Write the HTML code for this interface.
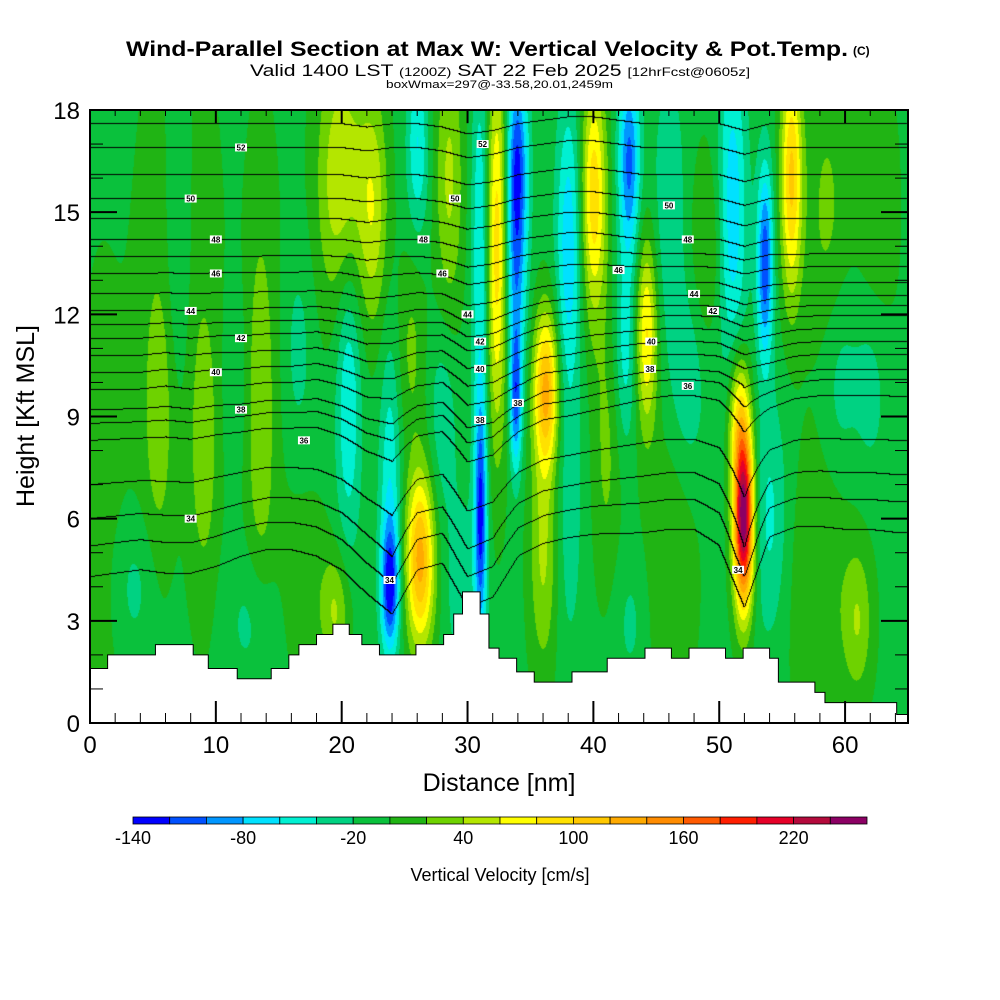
<!DOCTYPE html>
<html><head><meta charset="utf-8">
<style>
html,body{margin:0;padding:0;background:#fff;width:1000px;height:1000px;overflow:hidden;font-family:"Liberation Sans",sans-serif}
#wrap{position:relative;width:1000px;height:1000px}
#field{position:absolute;left:90px;top:110px}
#ov{position:absolute;left:0;top:0}
</style></head><body>
<div id="wrap">
<canvas id="field" width="818" height="613"></canvas>
<svg id="ov" width="1000" height="1000" xmlns="http://www.w3.org/2000/svg">
<g font-family="Liberation Sans, sans-serif" fill="#000">
<text x="126" y="56" font-size="21" font-weight="bold" textLength="722" lengthAdjust="spacingAndGlyphs">Wind-Parallel Section at Max W: Vertical Velocity &amp; Pot.Temp.</text>
<text x="853" y="55" font-size="12" font-weight="bold">(C)</text>
<text x="250" y="76" font-size="17" textLength="500" lengthAdjust="spacingAndGlyphs">Valid 1400 LST <tspan font-size="12">(1200Z)</tspan> SAT 22 Feb 2025 <tspan font-size="12">[12hrFcst@0605z]</tspan></text>
<text x="386" y="88" font-size="11" textLength="227" lengthAdjust="spacingAndGlyphs">boxWmax=297@-33.58,20.01,2459m</text>
</g>
<g id="terrain"></g>
<g id="clabels"></g>
<g id="axes"></g>
<g id="cbar"></g>
<text x="499" y="791" font-size="25" text-anchor="middle" font-family="Liberation Sans, sans-serif">Distance [nm]</text>
<text transform="translate(34,416) rotate(-90)" font-size="25" text-anchor="middle" font-family="Liberation Sans, sans-serif">Height [Kft MSL]</text>
<text x="500" y="881" font-size="18" text-anchor="middle" font-family="Liberation Sans, sans-serif">Vertical Velocity [cm/s]</text>
</svg>
</div>
<script>
// ---- data ----
const blobX  = [5,5.5,9,9,13.6,13.5,1,7,3.5,13,11.5,16.5,17,19.5,20.5,20.5,22.5,23.8,23.8,26.2,26,25.5,28.5,28,31,31,32.3,33.9,33.8,33.8,36.2,36,38,38,40,41,42.8,42.5,44.2,46,47.5,49,51.9,51.5,51,53.6,54,55.7,58,59.5,62,61,46,43,29.5,19.5,58.5,62.5];
const blobH  = [11,9,11,8,10,9,6,14,4,3,10,11,4,3.3,9.5,16,15,4,7,4.8,17,11,16,9,6,14,14,16.5,9.5,13,9.8,5,14,6,15.5,8,16.5,11,11.5,15,10,14,6,9,15,13.5,6,16,4,10,10,3,4.5,3,4,16,15,15];
const blobAmp= [18,28,18,28,18,28,15,-22,-25,-25,-15,-22,20,45,-55,40,50,-110,-50,135,-55,30,50,-30,-115,-60,100,-110,-100,-70,130,50,-70,-25,100,30,-100,-45,90,-30,-30,30,265,80,-70,-110,-40,110,25,-25,-25,40,25,-20,-25,30,30,22];
const blobSX = [1.2,0.7,1.2,0.7,1.2,0.7,1.5,0.6,1.2,1.5,0.7,0.8,1.5,0.8,0.7,1.5,0.8,0.5,0.6,0.8,0.6,0.8,0.8,0.8,0.35,0.5,0.6,0.6,0.35,0.6,0.7,0.8,0.7,0.8,0.7,0.8,0.6,0.6,0.6,1,1,1,0.55,0.6,0.8,0.45,1,0.6,2,1,1,0.8,1.5,1,1,1.2,1.2,1.2];
const blobSH = [6,2.5,6,2.5,6,3.5,6,2.5,1.5,1.5,2,2,2,1.2,3,2.5,2.5,1.3,3,1.8,1.8,2,3,2,2.5,4,4,2,1.5,2,1.6,2.5,3,3,2.5,3,2,2,2,3,2,2,1.8,1.5,3.5,2,2.5,2.5,3,2,2,1.5,3,1.5,2,3,3,3];
const baseW = -6;
const binColors = ["#0000ff","#0050ff","#0096ff","#00e1ff","#00f0d2","#00d282","#0ac13c","#20b414","#6ed200","#b4e600","#ffff00","#ffe100","#ffc800","#ffaa00","#ff8c00","#ff5a00","#ff1e00","#e60028","#b40a3c","#8c0064"];
const cbarTicks = [-140,-80,-20,40,100,160,220];
const thetaH = [0,4.3,5.2,6.0,7.0,8.3,8.8,9.2,9.8,10.3,10.8,11.3,11.7,12.1,12.6,13.2,13.7,14.2,14.8,15.4,16.1,16.9,17.6,18.5];
const thetaV = [31.4,32,33,34,35,36,37,38,39,40,41,42,43,44,45,46,47,48,49,50,51,52,53,54];
const dispX  = [0,2,4,6,8,10,12,14,16,18,20,22,24,26,28,30,32,34,36,38,40,42,44,46,48,50,52,54,56,58,60,62,64,66];
const dispLow= [0,0.1,0.2,0.1,0.1,0.3,0.6,0.8,0.8,0.6,0.2,-0.5,-1.1,0.2,0.4,-0.9,-0.6,0.6,1.0,1.2,1.3,1.3,1.3,1.4,1.4,0.9,-0.9,1.2,1.5,1.5,1.4,1.4,1.3,1.3];
const dispMid= [0,0,0,0.1,0,0.1,0.1,0.2,0.2,0.3,0.1,-0.2,-0.2,0.1,0.2,-0.4,-0.3,0.1,0.5,0.6,0.8,1.0,1.2,1.3,1.3,1.2,0.7,0.9,1.2,1.3,1.3,1.3,1.3,1.3];
const dispUp = [0,0,0,0,0,0,0,0,0,0,0,-0.1,0,0,-0.1,-0.3,-0.2,0,0.1,0.2,0.2,0.1,0,0,0,0,-0.2,0,0,0,0,0,0,0];
const labText = ["52","50","48","46","44","42","40","38","36","34","50","48","46","44","42","40","38","38","34","52","50","48","46","44","42","40","38","36","34"];
const labX    = [12,8,10,10,8,12,10,12,17,8,29,26.5,28,30,31,31,31,34,23.8,31.2,46,47.5,42,48,49.5,44.6,44.5,47.5,51.5];
const labH    = [16.9,15.4,14.2,13.2,12.1,11.3,10.3,9.2,8.3,6.0,15.4,14.2,13.2,12.0,11.2,10.4,8.9,9.4,4.2,17.0,15.2,14.2,13.3,12.6,12.1,11.2,10.4,9.9,4.5];
const terrEdges = [0,1.4,5.2,8.2,9.4,11.7,14.4,15.8,16.6,18.0,19.3,20.6,21.6,23.0,25.9,28.1,28.9,29.6,31.0,31.7,32.5,33.9,35.3,38.3,41.1,44.1,46.2,47.6,50.5,51.9,54.0,54.7,57.6,58.4,64.1,65];
const terrH     = [1.6,2.0,2.3,2.0,1.6,1.3,1.6,2.0,2.3,2.6,2.9,2.6,2.3,2.0,2.3,2.6,3.2,3.85,3.2,2.2,1.9,1.5,1.2,1.5,1.9,2.2,1.9,2.2,1.9,2.2,1.9,1.2,0.9,0.6,0.25];
const xTicks = [0,10,20,30,40,50,60];
const yTicks = [0,3,6,9,12,15,18];

const PX0=90, PY0=110, PW=818, PH=613, XMAX=65, HMAX=18;
const sx = v => PX0 + v/XMAX*PW;
const sy = v => PY0 + PH - v/HMAX*PH;
const NS="http://www.w3.org/2000/svg";
function mk(tag, attrs, parent){const e=document.createElementNS(NS,tag);for(const k in attrs)e.setAttribute(k,attrs[k]);parent.appendChild(e);return e;}
function interp(xs, ys, v){ if(v<=xs[0])return ys[0]; for(let i=1;i<xs.length;i++){ if(v<=xs[i]){const t=(v-xs[i-1])/(xs[i]-xs[i-1]);return ys[i-1]+t*(ys[i]-ys[i-1]);} } return ys[ys.length-1]; }
function hexRGB(h){return [parseInt(h.substr(1,2),16),parseInt(h.substr(3,2),16),parseInt(h.substr(5,2),16)];}
const rgb = binColors.map(hexRGB);

const cv=document.getElementById('field'), ctx=cv.getContext('2d');
const img=ctx.createImageData(PW,PH);
const theta=new Float32Array(PW*PH);
for(let j=0;j<PH;j++){
  const h=(PH-j)/PH*HMAX;
  for(let i=0;i<PW;i++){
    const x=i/PW*XMAX;
    let w=baseW;
    for(let b=0;b<blobX.length;b++){
      const dx=(x-blobX[b])/blobSX[b], dh=(h-blobH[b])/blobSH[b];
      const e=dx*dx+dh*dh; if(e<18) w+=blobAmp[b]*Math.exp(-0.5*e);
    }
    let bin=Math.floor((w+140)/20); if(bin<0)bin=0; if(bin>19)bin=19;
    const c=rgb[bin], k=(j*PW+i)*4;
    img.data[k]=c[0];img.data[k+1]=c[1];img.data[k+2]=c[2];img.data[k+3]=255;
    const dl=interp(dispX,dispLow,x), dm=interp(dispX,dispMid,x), du=interp(dispX,dispUp,x);
    let d;
    if(h<5) d=dl; else if(h<10) d=dl+(dm-dl)*(h-5)/5; else if(h<14) d=dm+(du-dm)*(h-10)/4; else d=du;
    theta[j*PW+i]=interp(thetaH,thetaV,h-d);
  }
}
for(let j=0;j<PH-1;j++)for(let i=0;i<PW-1;i++){
  const a=Math.floor(theta[j*PW+i]);
  if(a!==Math.floor(theta[j*PW+i+1])||a!==Math.floor(theta[(j+1)*PW+i])){
    const k=(j*PW+i)*4; img.data[k]=0;img.data[k+1]=0;img.data[k+2]=0;
  }
}
ctx.putImageData(img,0,0);

const tg=document.getElementById('terrain');
let pts=[[sx(0),sy(0)]];
for(let s=0;s<terrH.length;s++){pts.push([sx(terrEdges[s]),sy(terrH[s])]);pts.push([sx(terrEdges[s+1]),sy(terrH[s])]);}
pts.push([sx(65),sy(0)]);
const tp=mk('polygon',{points:pts.map(p=>p.join(',')).join(' '),fill:'#fff',stroke:'#000','stroke-width':1},tg);



const lg=document.getElementById('clabels');
for(let i=0;i<labText.length;i++){
  const g=mk('g',{},lg);
  
  
  mk('rect',{x:sx(labX[i])-6,y:sy(labH[i])-4,width:12,height:8,fill:'#fff'},g);
  const t=mk('text',{x:sx(labX[i]),y:sy(labH[i])+3,'font-size':8,'font-weight':'bold','text-anchor':'middle','font-family':'Liberation Sans, sans-serif'},g);
  t.textContent=labText[i];
}

const ag=document.getElementById('axes');
const fr=mk('rect',{x:PX0,y:PY0,width:PW,height:PH,fill:'none',stroke:'#000','stroke-width':2},ag);


for(let v=0;v<=64;v+=2){
  const major=v%10===0, L=major?22:10, x=sx(v);
  mk('line',{x1:x,y1:PY0+PH,x2:x,y2:PY0+PH-L,stroke:'#000','stroke-width':major?2:1},ag);
  mk('line',{x1:x,y1:PY0,x2:x,y2:PY0+L*0.6,stroke:'#000','stroke-width':major?2:1},ag);
}
for(let v=0;v<=18;v+=1){
  const major=v%3===0, L=major?27:13, y=sy(v);
  mk('line',{x1:PX0,y1:y,x2:PX0+L,y2:y,stroke:'#000','stroke-width':major?2:1},ag);
  mk('line',{x1:PX0+PW,y1:y,x2:PX0+PW-L,y2:y,stroke:'#000','stroke-width':major?2:1},ag);
}
xTicks.forEach(v=>{
  const t=mk('text',{x:sx(v),y:753,'font-size':24,'text-anchor':'middle','font-family':'Liberation Sans, sans-serif'},ag);
  
  
  t.textContent=v;
});
yTicks.forEach(v=>{
  const t=mk('text',{x:80,y:sy(v)+9,'font-size':24,'text-anchor':'end','font-family':'Liberation Sans, sans-serif'},ag);
  
  
  t.textContent=v;
});

const cg=document.getElementById('cbar');
const CB0=133, CB1=867, CBW=(CB1-CB0)/binColors.length;
binColors.forEach((c,i)=>{
  const r=mk('rect',{x:CB0+i*CBW,y:817,width:CBW,height:7,fill:c,stroke:'#000','stroke-width':0.8},cg);
  
  
});
cbarTicks.forEach(v=>{
  const t=mk('text',{x:CB0+(v+140)/20*CBW,y:844,'font-size':18,'text-anchor':'middle','font-family':'Liberation Sans, sans-serif'},cg);
  
  
  t.textContent=v;
});
</script>
</body></html>
